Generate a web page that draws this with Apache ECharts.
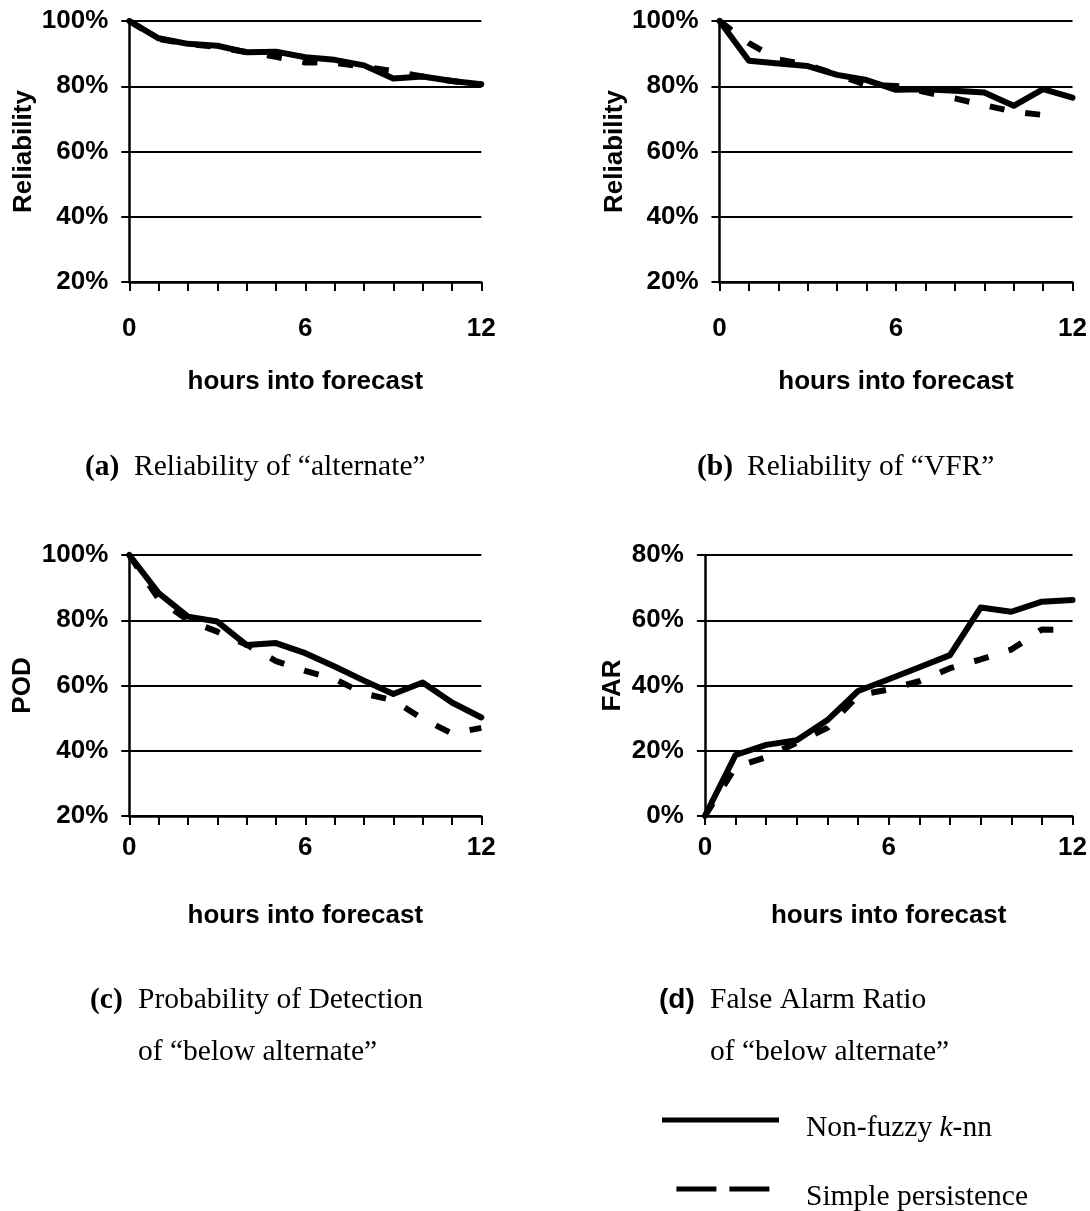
<!DOCTYPE html>
<html>
<head>
<meta charset="utf-8">
<script src="https://cdn.jsdelivr.net/npm/echarts@6/dist/echarts.min.js"></script>
<style>
  html, body { margin: 0; padding: 0; background: #fff; }
  #chart { width: 1090px; height: 1211px; }
</style>
</head>
<body>
<div id="chart"></div>
<script>
// Forecast lead time (hours) and the labelled ticks on the x axes
const hours = [0, 1, 2, 3, 4, 5, 6, 7, 8, 9, 10, 11, 12];
const xTickLabels = [0, 6, 12];

// y-axis ticks (percent)
const reliabilityTicks = [20, 40, 60, 80, 100];
const farTicks = [0, 20, 40, 60, 80];

// (a) Reliability of "alternate"
const knnAlternateRel = [100, 94.7, 93.0, 92.4, 90.4, 90.6, 88.9, 88.1, 86.4, 82.4, 83.0, 81.6, 80.6];
const persAlternateRel = [100, 94.5, 93.0, 92.0, 90.5, 89.0, 87.3, 87.2, 86.0, 84.6, 83.0, 81.6, 80.5];

// (b) Reliability of "VFR"
const knnVfrRel = [100, 87.8, 87.0, 86.2, 83.5, 81.9, 78.9, 79.1, 78.6, 78.1, 74.0, 79.1, 76.5];
const persVfrRel = [100, 93.2, 88.2, 86.5, 83.5, 80.4, 80.1, 78.2, 76.3, 74.2, 72.2, 71.2, null];

// (c) Probability of detection of "below alternate"
const knnBelowPod = [100, 88.3, 81.1, 79.6, 72.4, 73.0, 69.9, 65.8, 61.5, 57.4, 60.9, 54.8, 50.2];
const persBelowPod = [100, 86.5, 80.0, 76.5, 72.5, 67.5, 64.5, 62.0, 57.5, 55.5, 49.8, 45.3, 47.0];

// (d) False alarm ratio of "below alternate"
const knnBelowFar = [0, 18.7, 21.8, 23.2, 29.4, 38.3, 41.9, 45.6, 49.3, 63.9, 62.6, 65.7, 66.2];
const persBelowFar = [0, 15.0, 18.0, 22.5, 27.0, 37.0, 38.8, 41.3, 45.3, 48.0, 51.0, 57.2, 57.0];

const SOLID_NAME = 'Non-fuzzy k-nn';
const DASHED_NAME = 'Simple persistence';

const SANS = "'Liberation Sans', Arial, Helvetica, sans-serif";
const SERIF = "'Liberation Serif', 'Times New Roman', Times, serif";

const panels = [
  { grid: { left: 129.3, top: 21, width: 352, height: 261 }, ticks: reliabilityTicks,
    yName: 'Reliability', yNameGap: 92, xLabelMargin: 34,
    solid: knnAlternateRel, dashed: persAlternateRel },
  { grid: { left: 719.5, top: 21, width: 353, height: 261 }, ticks: reliabilityTicks,
    yName: 'Reliability', yNameGap: 92, xLabelMargin: 34,
    solid: knnVfrRel, dashed: persVfrRel },
  { grid: { left: 129.3, top: 555, width: 352, height: 261 }, ticks: reliabilityTicks,
    yName: 'POD', yNameGap: 93, xLabelMargin: 19,
    solid: knnBelowPod, dashed: persBelowPod },
  { grid: { left: 704.9, top: 555, width: 367.7, height: 261 }, ticks: farTicks,
    yName: 'FAR', yNameGap: 79, xLabelMargin: 19,
    solid: knnBelowFar, dashed: persBelowFar }
];

const pairs = arr => hours.map((h, i) => [h, arr[i]]);

const grids = [], xAxes = [], yAxes = [], series = [];
panels.forEach((p, i) => {
  grids.push(Object.assign({ containLabel: false }, p.grid));
  xAxes.push({
    type: 'value', gridIndex: i,
    min: hours[0], max: hours[hours.length - 1], interval: 1,
    name: 'hours into forecast', nameLocation: 'middle', nameGap: 87,
    nameTextStyle: { fontFamily: SANS, fontWeight: 'bold', fontSize: 26, color: '#000' },
    axisLine: { show: true, onZero: false, lineStyle: { color: '#000', width: 2.5 } },
    axisTick: { show: true, inside: false, length: 9, lineStyle: { color: '#000', width: 2 } },
    axisLabel: {
      show: true, margin: p.xLabelMargin, fontFamily: SANS, fontWeight: 'bold', fontSize: 26, color: '#000',
      formatter: v => (xTickLabels.indexOf(v) >= 0 ? String(v) : '')
    },
    splitLine: { show: false }
  });
  yAxes.push({
    type: 'value', gridIndex: i,
    min: p.ticks[0], max: p.ticks[p.ticks.length - 1], interval: p.ticks[1] - p.ticks[0],
    name: p.yName, nameLocation: 'middle', nameGap: p.yNameGap,
    nameTextStyle: { fontFamily: SANS, fontWeight: 'bold', fontSize: 26, color: '#000' },
    axisLine: { show: true, onZero: false, lineStyle: { color: '#000', width: 2.5 } },
    axisTick: { show: true, inside: false, length: 8, lineStyle: { color: '#000', width: 2 } },
    axisLabel: {
      show: true, margin: 21, fontFamily: SANS, fontWeight: 'bold', fontSize: 26, color: '#000',
      formatter: '{value}%'
    },
    splitLine: { show: true, lineStyle: { color: '#000', width: 2.2 } }
  });
  // persistence first so the k-nn line sits on top of it
  series.push({
    name: DASHED_NAME, type: 'line', xAxisIndex: i, yAxisIndex: i,
    data: pairs(p.dashed), symbol: 'none', showSymbol: false, clip: false,
    connectNulls: false,
    lineStyle: { color: '#000', width: 6, type: [15, 21], cap: 'butt', join: 'round' },
    emphasis: { disabled: true }, z: 3
  });
  series.push({
    name: SOLID_NAME, type: 'line', xAxisIndex: i, yAxisIndex: i,
    data: pairs(p.solid), symbol: 'none', showSymbol: false, clip: false,
    lineStyle: { color: '#000', width: 6, type: 'solid', cap: 'round', join: 'round' },
    emphasis: { disabled: true }, z: 4
  });
});

// panel captions and the key
const capFont = 29.5;
const boldSerif = { fontFamily: SERIF, fontWeight: 'bold', fontSize: capFont, fill: '#000' };
const plainSerif = { fontFamily: SERIF, fontSize: capFont, fill: '#000' };
const boldSans = { fontFamily: SANS, fontWeight: 'bold', fontSize: 28, fill: '#000' };

function txt(x, y, text, style) {
  return { type: 'text', x: x, y: y, silent: true,
    style: Object.assign({ text: text, verticalAlign: 'middle', align: 'left' }, style) };
}

const graphics = [
  txt(85, 467, '(a)', boldSerif),
  txt(134, 467, 'Reliability of \u201Calternate\u201D', plainSerif),
  txt(697, 467, '(b)', boldSerif),
  txt(747, 467, 'Reliability of \u201CVFR\u201D', plainSerif),
  txt(90, 1000, '(c)', boldSerif),
  txt(138, 1000, 'Probability of Detection', plainSerif),
  txt(138, 1052, 'of \u201Cbelow alternate\u201D', plainSerif),
  txt(659, 1000, '(d)', boldSans),
  txt(710, 1000, 'False Alarm Ratio', plainSerif),
  txt(710, 1052, 'of \u201Cbelow alternate\u201D', plainSerif),
  // key: solid k-nn line
  { type: 'line', silent: true, shape: { x1: 662, y1: 1120, x2: 779, y2: 1120 },
    style: { stroke: '#000', lineWidth: 5 } },
  { type: 'text', x: 806, y: 1128, silent: true,
    style: { text: '{n|Non-fuzzy }{i|k}{n|-nn}', verticalAlign: 'middle', align: 'left',
      rich: { n: plainSerif, i: Object.assign({ fontStyle: 'italic' }, plainSerif) } } },
  // key: dashed persistence line
  { type: 'line', silent: true, shape: { x1: 676.4, y1: 1189, x2: 769.4, y2: 1189 },
    style: { stroke: '#000', lineWidth: 5, lineDash: [40, 13] } },
  txt(806, 1197, 'Simple persistence', plainSerif)
];

const chart = echarts.init(document.getElementById('chart'), null, { renderer: 'canvas' });
chart.setOption({
  backgroundColor: '#fff',
  animation: false,
  grid: grids,
  xAxis: xAxes,
  yAxis: yAxes,
  series: series,
  graphic: graphics
});
</script>
</body>
</html>
